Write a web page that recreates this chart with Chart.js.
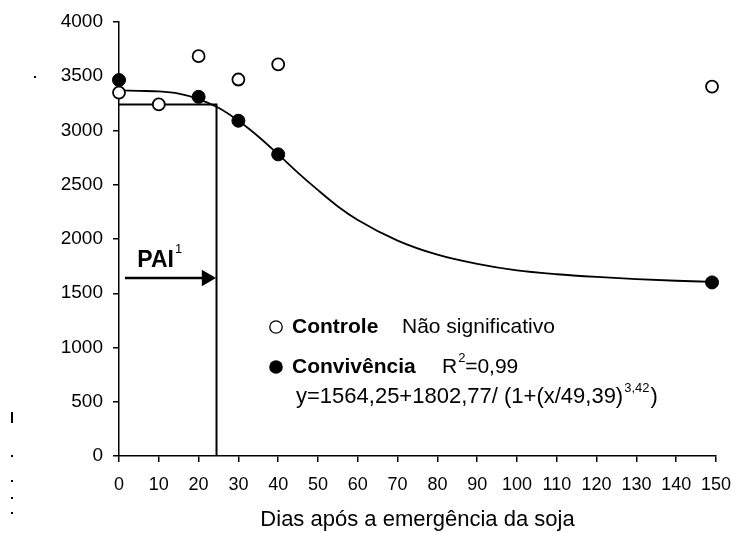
<!DOCTYPE html>
<html>
<head>
<meta charset="utf-8">
<script src="https://cdn.jsdelivr.net/npm/chart.js@4"></script>
<style>
  html, body { margin: 0; padding: 0; background: #fff; }
  #wrap { width: 731px; height: 533px; position: relative; }
</style>
</head>
<body>
<div id="wrap"><canvas id="chart" width="731" height="533"></canvas></div>
<script>
// Dados
const controleDias = [0, 10, 20, 30, 40, 149];
const controleValores = [3350, 3240, 3685, 3470, 3610, 3405];

const convivenciaDias = [0, 20, 30, 40, 149];
const convivenciaValores = [3465, 3310, 3090, 2780, 1600];

// curva ajustada
const curvaDias = [0, 5, 10, 15, 20, 25, 30, 35, 40, 45, 50, 55, 60, 70, 80, 90, 100, 110, 120, 130, 140, 149];
const curvaValores = [3370, 3365, 3360, 3340, 3290, 3210, 3090, 2945, 2780, 2610, 2450, 2300, 2175, 1985, 1855, 1770, 1710, 1675, 1650, 1630, 1615, 1605];

// PAI
const paiDias = 24.5;
const paiValor = 3240;
const setaInicio = 1.5;
const setaFim = 22.0;
const setaValor = 1640;

const xTicks = [0, 10, 20, 30, 40, 50, 60, 70, 80, 90, 100, 110, 120, 130, 140, 150];
const yTicks = [0, 500, 1000, 1500, 2000, 2500, 3000, 3500, 4000];

const FONT = '"Liberation Sans", Arial, sans-serif';

const toXY = (xs, ys) => xs.map((x, i) => ({ x: x, y: ys[i] }));

// textos e marcas extras
const textPlugin = {
    id: 'textos',
    afterDraw(chart) {
        const ctx = chart.ctx;
        const xs = chart.scales.x;
        const ys = chart.scales.y;
        ctx.save();
        ctx.fillStyle = '#000';
        ctx.strokeStyle = '#000';
        ctx.textBaseline = 'middle';
        ctx.textAlign = 'left';

        // PAI
        const px = xs.getPixelForValue(4.6);
        const py = ys.getPixelForValue(setaValor) - 17;
        ctx.font = 'bold 23px ' + FONT;
        ctx.fillText('PAI', px, py);
        const w = ctx.measureText('PAI').width;
        ctx.font = '13px ' + FONT;
        ctx.fillText('1', px + w + 1, py - 12);

        // legenda: símbolos
        ctx.lineWidth = 1.3;
        ctx.beginPath();
        ctx.arc(276, 327, 6.2, 0, Math.PI * 2);
        ctx.stroke();
        ctx.beginPath();
        ctx.arc(276, 367, 6.8, 0, Math.PI * 2);
        ctx.fill();

        ctx.font = 'bold 21px ' + FONT;
        ctx.fillText('Controle', 292, 327);
        ctx.fillText('Convivência', 292, 367);
        ctx.font = '21px ' + FONT;
        ctx.fillText('Não significativo', 402, 327);
        ctx.fillText('R', 442, 367);
        let rx = 442 + ctx.measureText('R').width;
        ctx.font = '13px ' + FONT;
        ctx.fillText('2', rx + 1, 358);
        rx += 8;
        ctx.font = '21px ' + FONT;
        ctx.fillText('=0,99', rx, 367);

        const eq1 = 'y=1564,25+1802,77/ (1+(x/49,39)';
        ctx.font = '22px ' + FONT;
        ctx.fillText(eq1, 296, 397);
        let ex = 296 + ctx.measureText(eq1).width;
        ctx.font = '13px ' + FONT;
        ctx.fillText('3,42', ex + 1, 388);
        ex += ctx.measureText('3,42').width + 2;
        ctx.font = '22px ' + FONT;
        ctx.fillText(')', ex, 397);

        // restos do título do eixo y
        ctx.fillRect(34, 76, 2, 2);
        ctx.fillRect(11, 412, 2, 11);
        [455, 480, 497, 512].forEach(y => ctx.fillRect(11, y, 2, 2));
        ctx.restore();
    }
};

const ctx = document.getElementById('chart').getContext('2d');
new Chart(ctx, {
    type: 'scatter',
    data: {
        datasets: [
            {
                label: 'Curva',
                type: 'line',
                data: toXY(curvaDias, curvaValores),
                borderColor: '#000',
                borderWidth: 1.8,
                pointRadius: 0,
                cubicInterpolationMode: 'monotone',
                fill: false,
                order: 3
            },
            {
                label: 'PAI linhas',
                type: 'line',
                data: [{ x: 0, y: paiValor }, { x: paiDias, y: paiValor }, { x: paiDias, y: 0 }],
                borderColor: '#000',
                borderWidth: 2,
                pointRadius: 0,
                tension: 0,
                fill: false,
                order: 4
            },
            {
                label: 'Seta',
                type: 'line',
                data: [{ x: setaInicio, y: setaValor }, { x: setaFim, y: setaValor }],
                borderColor: '#000',
                backgroundColor: '#000',
                borderWidth: 2.5,
                pointRadius: [0, 9.5],
                pointStyle: 'triangle',
                pointRotation: 90,
                pointBorderWidth: 0,
                tension: 0,
                fill: false,
                order: 4
            },
            {
                label: 'Controle',
                data: toXY(controleDias, controleValores),
                backgroundColor: '#fff',
                borderColor: '#000',
                borderWidth: 1.8,
                pointRadius: 6,
                clip: false,
                order: 1
            },
            {
                label: 'Convivência',
                data: toXY(convivenciaDias, convivenciaValores),
                backgroundColor: '#000',
                borderColor: '#000',
                borderWidth: 1,
                pointRadius: 6.5,
                clip: false,
                order: 0
            }
        ]
    },
    options: {
        responsive: false,
        animation: false,
        layout: { padding: { left: 0, right: 15, top: 22, bottom: 0 } },
        plugins: {
            legend: { display: false },
            tooltip: { enabled: false }
        },
        scales: {
            x: {
                type: 'linear',
                min: 0,
                max: 150,
                afterBuildTicks(scale) { scale.ticks = xTicks.map(v => ({ value: v })); },
                afterFit(scale) {
                    scale.height = 77;
                    scale.paddingLeft = 0;
                    scale.paddingRight = 0;
                },
                grid: { display: true, drawOnChartArea: false, drawTicks: true, tickLength: 6, color: '#000', lineWidth: 1.5 },
                border: { display: true, color: '#000', width: 1.5 },
                ticks: {
                    color: '#000', font: { family: FONT, size: 18 }, padding: 12, maxRotation: 0, autoSkip: false,
                    callback: v => String(v)
                },
                title: {
                    display: true,
                    text: 'Dias após a emergência da soja',
                    color: '#000',
                    font: { family: FONT, size: 22 },
                    padding: { top: 0, bottom: 0 }
                }
            },
            y: {
                type: 'linear',
                min: 0,
                max: 4000,
                afterBuildTicks(scale) { scale.ticks = yTicks.map(v => ({ value: v })); },
                afterFit(scale) {
                    scale.width = 119;
                    scale.paddingTop = 0;
                    scale.paddingBottom = 0;
                },
                grid: { display: true, drawOnChartArea: false, drawTicks: true, tickLength: 6, color: '#000', lineWidth: 1.5 },
                border: { display: true, color: '#000', width: 1.5 },
                ticks: {
                    color: '#000', font: { family: FONT, size: 19 }, padding: 10,
                    callback: v => String(v)
                }
            }
        }
    },
    plugins: [textPlugin]
});
</script>
</body>
</html>
